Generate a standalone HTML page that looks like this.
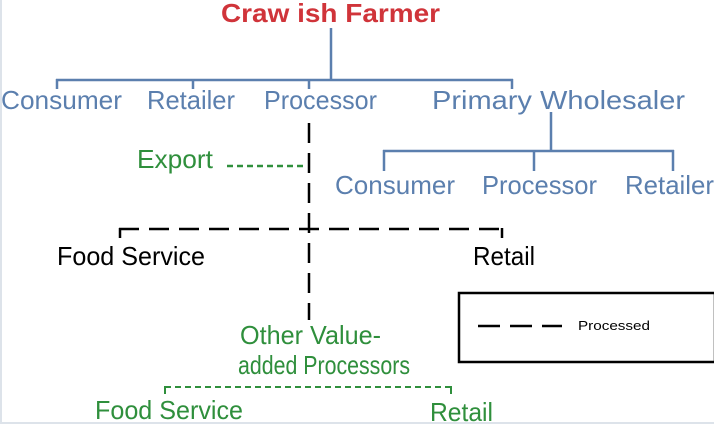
<!DOCTYPE html>
<html><head><style>
html,body{margin:0;padding:0;background:#fff;}
svg{display:block;}
text{font-family:"Liberation Sans",sans-serif;}
</style></head><body>
<svg width="714" height="425" viewBox="0 0 714 425" xmlns="http://www.w3.org/2000/svg">
<rect x="0" y="0" width="714" height="425" fill="#fff"/>
<line x1="1" y1="0" x2="1" y2="422" stroke="#dde3ea" stroke-width="2"/>
<line x1="0" y1="423" x2="714" y2="423" stroke="#dde3ea" stroke-width="2"/>
<text x="221" y="22" font-size="26" font-weight="bold" fill="#d0343a" textLength="219" lengthAdjust="spacingAndGlyphs">Craw ish Farmer</text>
<g stroke="#5b7fae" stroke-width="2.5" fill="none">
<line x1="331" y1="28" x2="331" y2="80"/>
<line x1="56" y1="80" x2="513" y2="80"/>
<line x1="57" y1="79" x2="57" y2="89"/>
<line x1="193" y1="79" x2="193" y2="89"/>
<line x1="309" y1="79" x2="309" y2="89"/>
<line x1="512" y1="79" x2="512" y2="89"/>
<line x1="551" y1="112" x2="551" y2="151"/>
<line x1="383" y1="151" x2="674" y2="151"/>
<line x1="384" y1="150" x2="384" y2="171"/>
<line x1="534" y1="150" x2="534" y2="171"/>
<line x1="673" y1="150" x2="673" y2="171"/>
</g>
<g font-size="26" fill="#5b7fae">
<text x="1" y="109" textLength="121" lengthAdjust="spacingAndGlyphs">Consumer</text>
<text x="147" y="109" textLength="88" lengthAdjust="spacingAndGlyphs">Retailer</text>
<text x="264" y="109" textLength="113" lengthAdjust="spacingAndGlyphs">Processor</text>
<text x="432" y="109" textLength="253" lengthAdjust="spacingAndGlyphs">Primary Wholesaler</text>
<text x="335" y="194" textLength="120" lengthAdjust="spacingAndGlyphs">Consumer</text>
<text x="482" y="194" textLength="115" lengthAdjust="spacingAndGlyphs">Processor</text>
<text x="625" y="194" textLength="89" lengthAdjust="spacingAndGlyphs">Retailer</text>
</g>
<g stroke="#000" stroke-width="2.5" fill="none" stroke-dasharray="20,10">
<line x1="309" y1="123" x2="309" y2="320"/>
<line x1="119" y1="229" x2="503" y2="229"/>
</g>
<line x1="120" y1="228" x2="120" y2="238" stroke="#000" stroke-width="2.5"/>
<line x1="502" y1="228" x2="502" y2="238" stroke="#000" stroke-width="2.5"/>
<text x="137" y="168" font-size="26" fill="#2f8f3c" textLength="76" lengthAdjust="spacingAndGlyphs">Export</text>
<line x1="227" y1="166" x2="306" y2="166" stroke="#2f8f3c" stroke-width="2.5" stroke-dasharray="6,4"/>
<g font-size="26" fill="#000">
<text x="57" y="265" textLength="148" lengthAdjust="spacingAndGlyphs">Food Service</text>
<text x="473" y="265" textLength="62" lengthAdjust="spacingAndGlyphs">Retail</text>
</g>
<rect x="459" y="293" width="256" height="69" fill="none" stroke="#000" stroke-width="2.5"/>
<line x1="478" y1="326" x2="562" y2="326" stroke="#000" stroke-width="2.5" stroke-dasharray="22,10"/>
<text x="578" y="330" font-size="13" fill="#000" textLength="72" lengthAdjust="spacingAndGlyphs">Processed</text>
<g font-size="26" fill="#2f8f3c">
<text x="240" y="344" textLength="141" lengthAdjust="spacingAndGlyphs">Other Value-</text>
<text x="238" y="374" textLength="172" lengthAdjust="spacingAndGlyphs">added Processors</text>
<text x="95" y="419" textLength="148" lengthAdjust="spacingAndGlyphs">Food Service</text>
<text x="430" y="421" textLength="63" lengthAdjust="spacingAndGlyphs">Retail</text>
</g>
<line x1="165" y1="387" x2="452" y2="387" stroke="#2f8f3c" stroke-width="2" stroke-dasharray="6,4"/>
<line x1="165" y1="386" x2="165" y2="394" stroke="#2f8f3c" stroke-width="2"/>
<line x1="451" y1="386" x2="451" y2="394" stroke="#2f8f3c" stroke-width="2"/>
</svg>
</body></html>
